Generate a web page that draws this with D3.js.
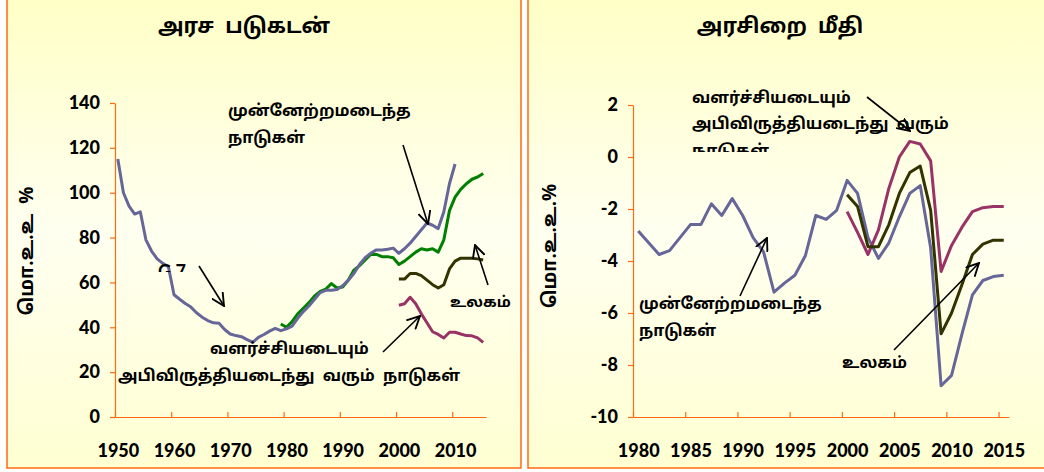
<!DOCTYPE html>
<html>
<head>
<meta charset="utf-8">
<script src="https://cdn.jsdelivr.net/npm/d3@7"></script>
<style>
  body { margin: 0; background: #fff; }
  text { font-family: "Noto Sans Tamil", Lato, "Noto Sans", sans-serif; font-weight: bold; fill: #000; white-space: pre; }
</style>
</head>
<body>
<script>
// ---- data ----
var debtYears = d3.range(1950, 2011)
var g7Debt = [115, 100, 94, 90.5, 91.5, 79, 74, 70.5, 68.5, 67,
  54.5, 52.5, 50.6, 49, 46.5, 44.5, 43, 42, 41.8, 39,
  37, 36.3, 35.8, 34.5, 33.3, 35.5, 36.8, 38.3, 39.5, 38.5,
  39.3, 40.5, 44, 47, 49.5, 52.5, 55.5, 56.5, 56.5, 56.8,
  58.5, 61, 64, 68, 71, 73, 74.5, 74.5, 74.8, 75.3,
  73, 75, 77.5, 80.5, 83.5, 86.5, 85.5, 84, 91.5, 104, 112.8]

var advDebtYears = d3.range(1979, 2016)
var advDebt = [41.5, 40, 42.5, 46, 48.5, 51, 54, 56, 57, 59.5,
  57.5, 58, 61, 65.5, 67.5, 70, 72.5, 72.5, 71.5, 71.5,
  71, 68, 69.5, 71.5, 73.5, 75, 74.5, 75, 73.5, 79,
  92, 98, 101.5, 104, 106, 107, 108.6]

var recentYears = d3.range(2000, 2016)
var worldDebt = [61.5, 61.5, 64, 64, 63, 61, 59, 57.5, 59, 66, 69.5, 70.8, 70.8, 70.8, 70.5, 70]
var emergDebt = [49.8, 50.5, 53.4, 50.5, 46, 42, 38, 36.8, 35.2, 37.8, 37.8, 37, 36.3, 36.2, 35.3, 33.3]

var balYears = d3.range(1980, 2016)
var advBalance = [-2.85, -3.3, -3.75, -3.6, -3.1, -2.6, -2.6, -1.8, -2.25, -1.6,
  -2.25, -3.1, -3.65, -5.2, -4.85, -4.55, -3.8, -2.25, -2.4, -2.05,
  -0.9, -1.4, -3.1, -3.9, -3.3, -2.3, -1.4, -1.1, -3.5, -8.8,
  -8.4, -6.8, -5.3, -4.75, -4.6, -4.55]
var worldBalance = [-1.45, -1.9, -3.45, -3.45, -2.6, -1.4, -0.6, -0.35, -2.05, -6.8, -6.0, -4.9, -3.75, -3.35, -3.2, -3.2]
var emergBalance = [-2.1, -2.9, -3.75, -2.8, -1.2, 0.0, 0.6, 0.5, -0.15, -4.4, -3.4, -2.7, -2.1, -1.95, -1.9, -1.9]

var debtTicks = [0, 20, 40, 60, 80, 100, 120, 140]
var debtYearLabels = [1950, 1960, 1970, 1980, 1990, 2000, 2010]
var balTicks = [-10, -8, -6, -4, -2, 0, 2]
var balYearLabels = [1980, 1985, 1990, 1995, 2000, 2005, 2010, 2015]

var cBlue = "#666699", cGreen = "#008000", cOlive = "#333300", cPlum = "#993366"
var orange = "#ff6a13"

var svg = d3.select("body").append("svg")
    .attr("width", 1044)
    .attr("height", 472)

var defs = svg.append("defs")
var grad = defs.append("linearGradient").attr("id", "bg")
    .attr("x1", 0).attr("y1", 0).attr("x2", 0).attr("y2", 1)
grad.append("stop").attr("offset", "0%").attr("stop-color", "#ffffc6")
grad.append("stop").attr("offset", "50%").attr("stop-color", "#fffff0")
grad.append("stop").attr("offset", "100%").attr("stop-color", "#ffffd2")

defs.append("marker").attr("id", "arr")
    .attr("viewBox", "0 0 12 12").attr("refX", 11).attr("refY", 6)
    .attr("markerWidth", 14).attr("markerHeight", 14)
    .attr("markerUnits", "userSpaceOnUse").attr("orient", "auto")
  .append("path").attr("d", "M0,0.5L11,6L0,11.5")
    .attr("fill", "none").attr("stroke", "#000").attr("stroke-width", 1.6)

// panel frames
svg.append("rect").attr("x", 7).attr("y", -5).attr("width", 514).attr("height", 473)
    .attr("fill", "url(#bg)").attr("stroke", orange).attr("stroke-width", 1.5)
svg.append("rect").attr("x", 528).attr("y", -5).attr("width", 530).attr("height", 473)
    .attr("fill", "url(#bg)").attr("stroke", orange).attr("stroke-width", 1.5)

function styleAxis(g) {
  g.selectAll("path, line").attr("stroke", orange).attr("stroke-width", 1.2)
  g.selectAll("text").attr("fill", "#000").style("font-family", "Lato, 'Noto Sans', sans-serif")
    .style("font-weight", "900").style("font-size", "18px")
}
var plain = function(d) { return String(d) }   // hyphen minus like the original

var line = function(x, y) {
  return d3.line().x(function(d) { return x(d[0]) }).y(function(d) { return y(d[1]) })
}
function drawSeries(x, y, years, vals, color) {
  svg.append("path")
    .datum(d3.zip(years, vals))
    .attr("d", line(x, y))
    .attr("fill", "none")
    .attr("stroke", color)
    .attr("stroke-width", 3)
    .attr("stroke-linejoin", "round")
}

function label(txt, x, y, size) {
  return svg.append("text").attr("x", x).attr("y", y)
    .style("font-size", (size || 16) + "px").text(txt)
}
function arrow(x1, y1, x2, y2) {
  svg.append("line").attr("x1", x1).attr("y1", y1).attr("x2", x2).attr("y2", y2)
    .attr("stroke", "#000").attr("stroke-width", 1.6).attr("marker-end", "url(#arr)")
}

// ---- left chart: debt ----
var xL = d3.scaleLinear().domain([1949.5, 2015.5]).range([115, 486])
var yL = d3.scaleLinear().domain([0, 140]).range([417, 103])

svg.append("g").attr("transform", "translate(115,0)")
    .call(d3.axisLeft(yL).tickValues(debtTicks).tickSizeInner(5).tickSizeOuter(0).tickPadding(10).tickFormat(plain))
    .call(styleAxis)
svg.append("g").attr("transform", "translate(0,417)")
    .call(d3.axisBottom(xL).tickValues(debtYearLabels.map(function(d) { return d - 0.5 }))
      .tickSizeInner(-5).tickSizeOuter(0).tickFormat(""))
    .call(styleAxis)
svg.append("g").attr("transform", "translate(0,417)")
    .call(d3.axisBottom(xL).tickValues(debtYearLabels).tickSize(0).tickPadding(27).tickFormat(plain))
    .call(styleAxis)
    .call(function(g) { g.select(".domain").remove() })

drawSeries(xL, yL, advDebtYears, advDebt, cGreen)
drawSeries(xL, yL, debtYears, g7Debt, cBlue)
drawSeries(xL, yL, recentYears, worldDebt, cOlive)
drawSeries(xL, yL, recentYears, emergDebt, cPlum)

svg.append("text").attr("x", 244).attr("y", 33).attr("text-anchor", "middle")
    .style("font-size", "21px").text("அரச  படுகடன்")
svg.append("text").attr("transform", "translate(33,251) rotate(-90)").attr("text-anchor", "middle")
    .style("font-size", "19px").text("மொ.உ.உ  %")

label("முன்னேற்றமடைந்த", 228, 116)
label("நாடுகள்", 228, 143)
arrow(403, 145, 428, 224)

defs.append("clipPath").attr("id", "g7clip").append("rect")
    .attr("x", 140).attr("y", 250).attr("width", 60).attr("height", 22)
label("G 7", 158, 278, 18).attr("clip-path", "url(#g7clip)").style("font-family", "Lato, sans-serif")
arrow(199, 266, 224, 306)

label("வளர்ச்சியடையும்", 210, 354)
label("அபிவிருத்தியடைந்து  வரும்  நாடுகள்", 118, 381)
arrow(383, 352, 420, 316)

label("உலகம்", 450, 307, 15)
arrow(488, 285, 475, 245)

// ---- right chart: balance ----
var xR = d3.scaleLinear().domain([1979.5, 2015.5]).range([633, 1009])
var yR = d3.scaleLinear().domain([-10, 2]).range([417, 105])

svg.append("g").attr("transform", "translate(633,0)")
    .call(d3.axisLeft(yR).tickValues(balTicks).tickSizeInner(5).tickSizeOuter(0).tickPadding(10).tickFormat(plain))
    .call(styleAxis)
svg.append("g").attr("transform", "translate(0,417)")
    .call(d3.axisBottom(xR).tickValues(balYearLabels.map(function(d) { return d - 0.5 }))
      .tickSizeInner(-5).tickSizeOuter(0).tickFormat(""))
    .call(styleAxis)
svg.append("g").attr("transform", "translate(0,417)")
    .call(d3.axisBottom(xR).tickValues(balYearLabels).tickSize(0).tickPadding(27).tickFormat(plain))
    .call(styleAxis)
    .call(function(g) { g.select(".domain").remove() })

drawSeries(xR, yR, balYears, advBalance, cBlue)
drawSeries(xR, yR, recentYears, emergBalance, cPlum)
drawSeries(xR, yR, recentYears, worldBalance, cOlive)

svg.append("text").attr("x", 780).attr("y", 33).attr("text-anchor", "middle")
    .style("font-size", "21px").text("அரசிறை  மீதி")
svg.append("text").attr("transform", "translate(556,246) rotate(-90)").attr("text-anchor", "middle")
    .style("font-size", "19px").text("மொ.உ.உ.%")

label("வளர்ச்சியடையும்", 692, 103)
label("அபிவிருத்தியடைந்து  வரும்", 692, 129)
defs.append("clipPath").attr("id", "nclip").append("rect")
    .attr("x", 680).attr("y", 135).attr("width", 120).attr("height", 17)
label("நாடுகள்", 692, 156).attr("clip-path", "url(#nclip)")
arrow(867, 97, 910, 131)

label("முன்னேற்றமடைந்த", 639, 309)
label("நாடுகள்", 639, 336)
arrow(740, 296, 767, 238)

label("உலகம்", 842, 368)
arrow(894, 350, 979, 263)
</script>
</body>
</html>
